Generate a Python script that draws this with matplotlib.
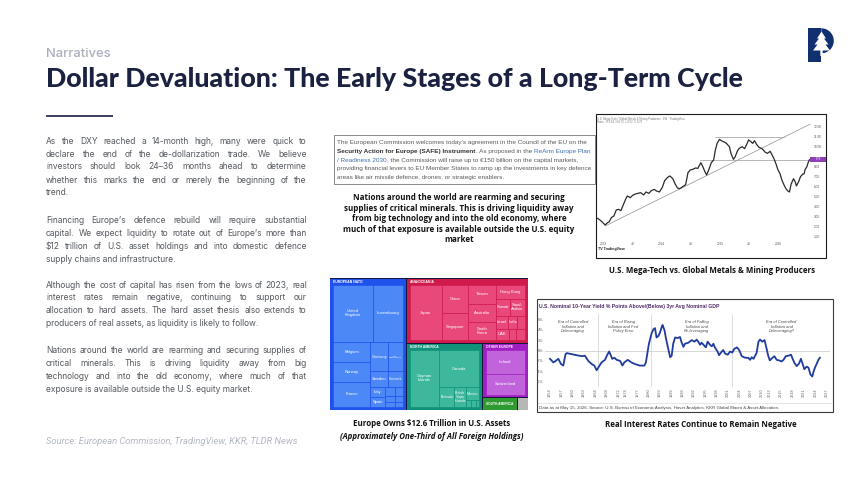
import matplotlib
matplotlib.use("Agg")
import matplotlib.pyplot as plt
from matplotlib.patches import Rectangle, Wedge, Polygon
import matplotlib.transforms as mtransforms

plt.rcParams['text.parse_math'] = False

# ======================= DATA =======================
# Real-rate chart: U.S. nominal 10y yield minus 3yr avg nominal GDP (% points)
rr_year = [1954.0, 1954.9, 1955.5, 1956.2, 1956.9, 1957.5, 1958.1, 1958.4, 1959.7, 1961.0,
           1962.4, 1963.2, 1964.1, 1965.0, 1965.7, 1966.3, 1966.9, 1967.6, 1968.5, 1969.0,
           1969.6, 1970.1, 1970.4, 1971.0, 1971.6, 1972.5, 1973.1, 1973.6, 1974.5, 1975.5,
           1976.4, 1977.7, 1978.9, 1979.3, 1979.8, 1980.1, 1980.8, 1981.3, 1981.7, 1982.1,
           1982.6, 1983.0, 1983.5, 1983.7, 1984.2, 1984.6, 1985.2, 1985.7, 1986.1, 1986.5,
           1987.0, 1987.7, 1988.3, 1988.7, 1989.2, 1989.6, 1990.5, 1991.4, 1992.1, 1992.7,
           1993.1, 1993.6, 1994.0, 1994.5, 1995.1, 1995.6, 1996.2, 1996.7, 1997.1, 1997.5,
           1998.2, 1998.6, 1999.1, 1999.7, 2000.2, 2000.9, 2001.5, 2002.1, 2002.6, 2003.3,
           2003.9, 2004.6, 2005.5, 2006.3, 2006.8, 2007.2, 2007.7, 2008.1, 2008.5, 2009.0,
           2009.4, 2010.0, 2010.6, 2011.0, 2011.6, 2012.0, 2012.7, 2013.2, 2013.8, 2014.4,
           2015.1, 2015.6, 2016.2, 2016.9, 2017.6, 2017.9, 2018.5, 2019.1, 2019.7, 2020.2,
           2020.7, 2021.1, 2021.7, 2022.2, 2022.7, 2023.2, 2023.6, 2023.9, 2024.4, 2024.8,
           2025.2]
rr_value = [-1.6, -2.3, -2.0, -1.6, -2.6, -2.9, -0.7, -0.5, -0.7, -0.9,
            -1.1, -1.0, -2.0, -2.6, -2.9, -3.8, -3.1, -2.3, -1.8, -1.0,
            -0.2, -1.0, -1.6, -1.4, -1.8, -2.0, -2.9, -2.3, -1.8, -2.3,
            -2.6, -2.9, -2.9, -2.3, 0.0, 1.3, 3.3, 4.1, 4.3, 2.5,
            2.8, 3.4, 4.6, 4.9, 3.9, 2.3, 0.3, -1.3, -1.0, 1.3,
            2.5, 2.4, 2.6, 1.6, 0.7, 1.3, 1.5, 2.0, 1.7, 2.1,
            1.7, 1.1, 1.5, 1.1, 0.6, 1.7, 1.1, 0.8, 1.3, 0.6,
            -0.2, -0.9, -0.4, 0.1, -0.6, -0.8, -0.2, -0.4, 0.3, 0.6,
            0.1, -1.1, -1.4, -1.4, -1.8, -1.3, -1.6, -1.0, -0.5, 1.7,
            2.1, 1.7, 2.0, 0.8, -1.1, -1.9, -1.4, -1.1, -1.8, -1.9,
            -2.1, -1.8, -1.1, -1.0, -0.8, -1.4, -2.4, -3.0, -2.5, -1.6,
            -2.7, -3.6, -3.1, -3.3, -4.6, -5.0, -3.9, -3.3, -2.5, -1.8,
            -1.4]
rr_ytick_values = [6, 4, 2, 0, -2, -4, -6]
rr_ytick_labels = ['6%', '4%', '2%', '0%', '-2%', '-4%', '-6%']
rr_xtick_labels = ['1954', '1957', '1960', '1963', '1966', '1969', '1972', '1974', '1977',
                   '1980', '1983', '1986', '1989', '1992', '1995', '1998', '2001', '2004',
                   '2007', '2010', '2012', '2015', '2018', '2021', '2024', '2027']
era_bounds = [1966.7, 1980.6, 2001.9]
era_centers = [1960.1, 1973.3, 1992.7, 2015.1]
era_labels = ['Era of Controlled\nInflation and\nDeleveraging',
              'Era of Rising\nInflation and Fed\nPolicy Error',
              'Era of Falling\nInflation and\nRe-leveraging',
              'Era of Controlled\nInflation and\nDeleveraging?']

# TradingView ratio chart: U.S. Mega-Tech vs Global Metals & Mining (weekly)
tv_time = [2022.90, 2022.94, 2022.99, 2023.03, 2023.07, 2023.10, 2023.14, 2023.18, 2023.22, 2023.26,
           2023.30, 2023.34, 2023.38, 2023.41, 2023.46, 2023.50, 2023.55, 2023.59, 2023.64, 2023.69,
           2023.73, 2023.78, 2023.82, 2023.87, 2023.91, 2023.96, 2024.01, 2024.05, 2024.10, 2024.14,
           2024.19, 2024.23, 2024.27, 2024.31, 2024.36, 2024.41, 2024.45, 2024.49, 2024.53, 2024.58,
           2024.62, 2024.67, 2024.70, 2024.74, 2024.77, 2024.81, 2024.85, 2024.89, 2024.92, 2024.95,
           2024.99, 2025.02, 2025.07, 2025.11, 2025.16, 2025.19, 2025.23, 2025.26, 2025.30, 2025.33,
           2025.38, 2025.42, 2025.46, 2025.49, 2025.53, 2025.56, 2025.59, 2025.63, 2025.67, 2025.72,
           2025.77, 2025.81, 2025.86, 2025.89, 2025.93, 2025.96, 2025.99, 2026.03, 2026.06, 2026.10,
           2026.13, 2026.17, 2026.19, 2026.22, 2026.26, 2026.29, 2026.31, 2026.35, 2026.38, 2026.42,
           2026.44, 2026.46, 2026.49, 2026.51, 2026.53, 2026.55]
tv_ratio = [2.83, 2.67, 2.40, 2.17, 2.40, 2.50, 2.93, 3.07, 3.67, 3.73,
            3.60, 4.17, 4.73, 5.07, 4.90, 5.13, 5.27, 5.33, 5.40, 5.17,
            5.47, 5.33, 5.60, 5.73, 5.57, 5.47, 5.93, 6.60, 6.93, 7.07,
            6.80, 6.27, 5.87, 5.80, 6.00, 6.20, 7.40, 7.67, 7.73, 7.87,
            7.83, 8.40, 8.07, 7.50, 7.17, 7.73, 8.40, 8.67, 9.67, 10.33,
            10.73, 10.60, 10.47, 10.33, 10.00, 9.27, 8.73, 9.00, 9.60, 9.83,
            10.00, 9.80, 10.27, 10.67, 10.50, 10.33, 10.60, 10.20, 9.93, 9.80,
            9.47, 9.33, 9.53, 9.20, 8.73, 8.27, 7.73, 7.27, 6.67, 6.13,
            5.80, 5.53, 5.47, 6.27, 6.80, 6.47, 6.07, 6.53, 7.00, 7.27,
            7.27, 7.73, 8.00, 8.40, 8.67, 8.73]
tv_trend_time = [2023.03, 2026.69]
tv_trend_ratio = [2.07, 12.67]
tv_top_level = 11.0
tv_top_span = [2024.91, 2026.09]
tv_mid_level = 8.67
tv_mid_start = 2024.66
tv_ytick_values = [1, 2, 3, 4, 5, 6, 7, 8, 10, 11, 12]
tv_ytick_labels = ['1.00', '2.00', '3.00', '4.00', '5.00', '6.00', '7.00', '8.00',
                   '10.00', '11.00', '12.00']
tv_xtick_time = [2023.0, 2023.5, 2024.0, 2024.5, 2025.0, 2025.5, 2026.0]
tv_xtick_labels = ['2023', 'Jul', '2024', 'Jul', '2025', 'Jul', '2026']

# Treemap: foreign holdings of U.S. assets ($bn)
nato_names = ['United Kingdom', 'Luxembourg', 'Belgium', 'Norway', 'France', 'Germany',
              'The Netherlands', 'Sweden', 'Denmark', 'Italy', 'Spain', 'Finland', 'Poland',
              'Portugal', 'Greece', 'Turkey', 'Czechia']
nato_values = [2714, 2006, 875, 875, 1108, 611, 525, 333, 286, 167, 179, 90, 80, 70, 60, 55, 48]
asia_names = ['Japan', 'China', 'Singapore', 'Taiwan', 'Australia', 'South Korea', 'Hong Kong',
              'Kuwait', 'Saudi Arabia', 'Israel', 'India', 'Thailand', 'UAE', 'Malaysia', 'Qatar']
asia_values = [2221, 911, 866, 657, 633, 621, 506, 302, 316, 188, 152, 117, 185, 102, 129]
na_names = ['Cayman Islands', 'Canada', 'Bermuda', 'British Virgin Islands', 'Mexico',
            'Bahamas', 'Panama', 'Barbados']
na_values = [2162, 1915, 375, 291, 222, 42, 38, 31]
oe_names = ['Ireland', 'Switzerland']
oe_values = [1322, 1146]
sa_value = 430
other_value = 125

# ======================= FIGURE =======================
W, H = 854, 480
PT = 100 / 72.0
fig = plt.figure(figsize=(W / 100, H / 100), dpi=100, facecolor='white')
bg = fig.add_axes([0, 0, 1, 1])
bg.set_xlim(0, W)
bg.set_ylim(H, 0)
bg.axis('off')
R = fig.canvas.get_renderer()

BODY = ['Inter', 'DejaVu Sans']
HEAVY = ['Lato', 'Inter', 'DejaVu Sans']
CAP = ['Open Sans', 'DejaVu Sans']
ARIAL = ['Liberation Sans', 'DejaVu Sans']


def measure(s, fs, **kw):
    t = bg.text(0, 0, s, fontsize=fs, **kw)
    w = t.get_window_extent(renderer=R).width
    t.remove()
    return w


def fit(s, width, **kw):
    return 20 * width / measure(s, 20, **kw)


def px_axes(x0, y0, x1, y1):
    return fig.add_axes([x0 / W, 1 - y1 / H, (x1 - x0) / W, (y1 - y0) / H])


def justified(lines, centers, x0, x1, fs, **kw):
    for i, (line, c) in enumerate(zip(lines, centers)):
        base = c + 0.33 * fs * PT
        if i == len(lines) - 1:
            bg.text(x0, base, line, fontsize=fs, va='baseline', **kw)
            continue
        words = line.split(' ')
        ws = [measure(w, fs, **kw) for w in words]
        gap = (x1 - x0 - sum(ws)) / (len(words) - 1)
        x = x0
        for w, wd in zip(words, ws):
            bg.text(x, base, w, fontsize=fs, va='baseline', **kw)
            x += wd + gap


def segments(x, base, segs, fs):
    space = measure('a a', fs, family=ARIAL) - measure('aa', fs, family=ARIAL)
    for s, kw in segs:
        core = s.strip()
        if s.startswith(' '):
            x += space
        bg.text(x, base, core, fontsize=fs, va='baseline', family=ARIAL, **kw)
        x += measure(core, fs, family=ARIAL, **kw)
        if s.endswith(' '):
            x += space


# ---------- header ----------
fs_n = fit('Narratives', 64.7, family=BODY, weight='medium')
bg.text(46, 57.3, 'Narratives', fontsize=fs_n, family=BODY, weight='medium',
        color='#a9afbd', va='baseline')
title = 'Dollar Devaluation: The Early Stages of a Long-Term Cycle'
fs_t = fit(title, 699, family=HEAVY, weight='black')
bg.text(46, 87.3, title, fontsize=fs_t, family=HEAVY, weight='black', color='#1b2140',
        va='baseline')
bg.plot([46, 112.7], [116, 116], color='#1b2140', lw=1.2, solid_capstyle='butt')

# ---------- logo ----------
navy = '#10306f'
bg.add_patch(Rectangle((808.3, 28.3), 13, 33.4, facecolor=navy, edgecolor='none'))
bg.add_patch(Wedge((821.3, 40.8), 12.5, -90, 90, facecolor=navy, edgecolor='none'))
tree = [(821.5, 31.5), (826, 38.5), (824, 38.5), (828.5, 44.5), (825.5, 44.5), (830, 50.5),
        (822.7, 50.5), (822.7, 56), (820.3, 56), (820.3, 50.5), (813, 50.5), (817.5, 44.5),
        (814.5, 44.5), (819, 38.5), (817, 38.5)]
bg.add_patch(Polygon(tree, closed=True, facecolor='white', edgecolor='none'))

# ---------- body text ----------
para1 = ['As the DXY reached a 14-month high, many were quick to',
         'declare the end of the de-dollarization trade. We believe',
         'investors should look 24–36 months ahead to determine',
         'whether this marks the end or merely the beginning of the',
         'trend.']
para2 = ['Financing Europe’s defence rebuild will require substantial',
         'capital. We expect liquidity to rotate out of Europe’s more than',
         '$12 trillion of U.S. asset holdings and into domestic defence',
         'supply chains and infrastructure.']
para3 = ['Although the cost of capital has risen from the lows of 2023, real',
         'interest rates remain negative, continuing to support our',
         'allocation to hard assets. The hard asset thesis also extends to',
         'producers of real assets, as liquidity is likely to follow.']
para4 = ['Nations around the world are rearming and securing supplies of',
         'critical minerals. This is driving liquidity away from big',
         'technology and into the old economy, where much of that',
         'exposure is available outside the U.S. equity market.']
body_kw = dict(family=BODY, color='#55595f')
fs_b = fit('supply chains and infrastructure.', 130.7, family=BODY)
justified(para1, [141, 154, 166.7, 180, 192.7], 46, 306.7, fs_b, **body_kw)
justified(para2, [220, 233.3, 246, 259], 46, 306.7, fs_b, **body_kw)
justified(para3, [285, 297.7, 310.7, 323.7], 46, 306.7, fs_b, **body_kw)
justified(para4, [350, 363.3, 376.7, 389.3], 46, 306.7, fs_b, **body_kw)
source = 'Source: European Commission, TradingView, KKR, TLDR News'
fs_src = fit(source, 252.3, family=['Roboto', 'DejaVu Sans'], style='italic')
bg.text(46, 441 + 0.33 * fs_src * PT, source, fontsize=fs_src, family=['Roboto', 'DejaVu Sans'],
        style='italic', color='#b3b8c2', va='baseline')

# ---------- quote box ----------
bg.add_patch(Rectangle((334, 135), 261, 49, facecolor='white', edgecolor='#8a8a8a', lw=0.7))
fs_q = fit('providing financial levers to EU Member States to ramp up the investments in key defence',
           256, family=ARIAL)
qn = dict(color='#5a5a5a')
qb = dict(color='#333333', weight='bold')
ql = dict(color='#3f6fae')
qlines = [
    [('The European Commission welcomes today’s agreement in the Council of the EU on the', qn)],
    [('Security Action for Europe (SAFE) Instrument', qb), ('. As proposed in the ', qn),
     ('ReArm Europe Plan', ql)],
    [('/ Readiness 2030', ql), (', the Commission will raise up to €150 billion on the capital markets,', qn)],
    [('providing financial levers to EU Member States to ramp up the investments in key defence', qn)],
    [('areas like air missile defence, drones, or strategic enablers.', qn)],
]
for segs, c in zip(qlines, [141.7, 150.7, 159.3, 168, 176.7]):
    segments(337.3, c + 0.36 * fs_q * PT, segs, fs_q)

# ---------- bold caption block ----------
cap_lines = ['Nations around the world are rearming and securing',
             'supplies of critical minerals. This is driving liquidity away',
             'from big technology and into the old economy, where',
             'much of that exposure is available outside the U.S. equity',
             'market']
fs_c = fit(cap_lines[1], 227.7, family=CAP, weight='bold')
for s, c in zip(cap_lines, [197.5, 208, 218.5, 229, 239]):
    bg.text(459, c + 0.36 * fs_c * PT, s, fontsize=fs_c, family=CAP, weight='bold',
            color='#111111', ha='center', va='baseline')

# ---------- chart captions ----------
cap1 = 'Europe Owns $12.6 Trillion in U.S. Assets'
fs_cap = fit(cap1, 157.7, family=CAP, weight='bold')
bg.text(431.9, 423.5 + 0.36 * fs_cap * PT, cap1, fontsize=fs_cap, family=CAP, weight='bold',
        color='#111111', ha='center', va='baseline')
bg.text(431.9, 436 + 0.36 * fs_cap * PT, '(Approximately One-Third of All Foreign Holdings)',
        fontsize=fs_cap, family=CAP, weight='bold', style='italic', color='#111111',
        ha='center', va='baseline')
bg.text(701, 424 + 0.36 * fs_cap * PT, 'Real Interest Rates Continue to Remain Negative',
        fontsize=fs_cap, family=CAP, weight='bold', color='#111111', ha='center', va='baseline')
bg.text(712, 270 + 0.36 * fs_cap * PT, 'U.S. Mega-Tech vs. Global Metals & Mining Producers',
        fontsize=fs_cap, family=CAP, weight='bold', color='#111111', ha='center', va='baseline')

# ======================= TREEMAP =======================
leaf_value = {}
for nms, vals in [(nato_names, nato_values), (asia_names, asia_values),
                  (na_names, na_values), (oe_names, oe_values)]:
    leaf_value.update(zip(nms, vals))

group_value = {'NATO': sum(nato_values), 'ASIA': sum(asia_values), 'NA': sum(na_values),
               'OE': sum(oe_values), 'SA': sa_value, 'OTHER': other_value}

top_tree = ('h', ['NATO', ('v', ['ASIA', ('h', ['NA', ('v', ['OE', ('h', ['SA', 'OTHER'])])])])])
group_trees = {
    'NATO': ('v', [('h', ['United Kingdom', 'Luxembourg']),
                   ('h', [('v', ['Belgium', 'Norway', 'France']),
                          ('v', [('h', ['Germany', 'The Netherlands']),
                                 ('h', ['Sweden', 'Denmark']),
                                 ('h', [('v', ['Italy', 'Spain']),
                                        ('v', [('h', ['Finland', 'Poland']),
                                               ('h', ['Portugal', 'Greece']),
                                               ('h', ['Turkey', 'Czechia'])])])])])]),
    'ASIA': ('h', ['Japan', ('v', ['China', 'Singapore']),
                   ('v', ['Taiwan', 'Australia', 'South Korea']),
                   ('v', ['Hong Kong', ('h', ['Kuwait', 'Saudi Arabia']),
                          ('h', ['Israel', 'India', 'Thailand']),
                          ('h', ['UAE', 'Malaysia', 'Qatar'])])]),
    'NA': ('h', ['Cayman Islands', ('v', ['Canada', ('h', ['Bermuda', 'British Virgin Islands',
                                                         ('v', ['Mexico', ('h', ['Bahamas', 'Panama', 'Barbados'])])])])]),
    'OE': ('v', ['Ireland', 'Switzerland']),
}
group_style = {'NATO': ('EUROPEAN NATO', '#1f52ec', '#4c88f6'),
               'ASIA': ('ASIA/OCEANIA', '#cf1a4b', '#e8497a'),
               'NA': ('NORTH AMERICA', '#12917a', '#3db89d'),
               'OE': ('OTHER EUROPE', '#a11fc2', '#c163da')}
display = {'United Kingdom': 'United\nKingdom', 'The Netherlands': 'The\nNetherlands',
           'South Korea': 'South\nKorea', 'Saudi Arabia': 'Saudi\nArabia',
           'Cayman Islands': 'Cayman\nIslands', 'British Virgin Islands': 'British\nVirgin\nIslands'}


def node_value(n, table):
    if isinstance(n, str):
        return table[n]
    return sum(node_value(k, table) for k in n[1])


def layout(n, x0, y0, x1, y1, table, out):
    if isinstance(n, str):
        out[n] = (x0, y0, x1, y1)
        return
    d, kids = n
    vals = [node_value(k, table) for k in kids]
    tot = float(sum(vals))
    pos = x0 if d == 'h' else y0
    for k, v in zip(kids, vals):
        span = ((x1 - x0) if d == 'h' else (y1 - y0)) * v / tot
        if d == 'h':
            layout(k, pos, y0, pos + span, y1, table, out)
        else:
            layout(k, x0, pos, x1, pos + span, table, out)
        pos += span


TX0, TY0, TX1, TY1 = 329.7, 278.3, 528, 410
TW, TH = TX1 - TX0, TY1 - TY0
tm = px_axes(TX0, TY0, TX1, TY1)
tm.set_xlim(0, TW)
tm.set_ylim(TH, 0)
tm.axis('off')
tm.add_patch(Rectangle((0, 0), TW, TH, facecolor='#15173a', edgecolor='none'))
grects = {}
layout(top_tree, 0, 0, TW, TH, group_value, grects)
PAD, HEAD, INS = 3.2, 6.6, 0.4
for g, (x0, y0, x1, y1) in grects.items():
    if g in group_style:
        name, dark, light = group_style[g]
        tm.add_patch(Rectangle((x0 + INS, y0 + INS), x1 - x0 - 2 * INS, y1 - y0 - 2 * INS,
                               facecolor=dark, edgecolor='none'))
        tm.text(x0 + PAD + 0.5, y0 + 3.5, name, fontsize=2.4, family=ARIAL, weight='bold',
                color='white', ha='left', va='center')
        lrects = {}
        layout(group_trees[g], x0 + PAD, y0 + HEAD, x1 - PAD, y1 - PAD, leaf_value, lrects)
        for leaf, (a0, b0, a1, b1) in lrects.items():
            tm.add_patch(Rectangle((a0, b0), a1 - a0, b1 - b0, facecolor=light,
                                   edgecolor=dark, lw=0.45))
            if (a1 - a0) >= 9.5 and (b1 - b0) >= 8:
                lab = display.get(leaf, leaf)
                longest = max(lab.split('\n'), key=len)
                fsl = min(3.0, 3.0 * 0.86 * (a1 - a0) / measure(longest, 3.0, family=ARIAL))
                tm.text((a0 + a1) / 2, (b0 + b1) / 2, lab, fontsize=fsl,
                        family=ARIAL, color='white', ha='center', va='center',
                        linespacing=1.0)
    elif g == 'SA':
        tm.add_patch(Rectangle((x0 + INS, y0 + INS), x1 - x0 - 2 * INS, y1 - y0 - 2 * INS,
                               facecolor='#2f9a2f', edgecolor='none'))
        tm.text((x0 + x1) / 2, (y0 + y1) / 2, 'SOUTH AMERICA', fontsize=2.3, family=ARIAL,
                weight='bold', color='white', ha='center', va='center')
    else:
        tm.add_patch(Rectangle((x0 + INS, y0 + INS), x1 - x0 - 2 * INS, y1 - y0 - 2 * INS,
                               facecolor='#b7b7b7', edgecolor='none'))

# ======================= REAL RATE LINE CHART =======================
bg.add_patch(Rectangle((537, 299), 295.7, 112.7, facecolor='white', edgecolor='#3a3a3a', lw=0.8))
rr_title = 'U.S. Nominal 10-Year Yield % Points Above/(Below) 3yr Avg Nominal GDP'
fs_rt = fit(rr_title, 177.7, family=ARIAL, weight='bold')
bg.text(539, 306 + 0.35 * fs_rt * PT, rr_title, fontsize=fs_rt, family=ARIAL, weight='bold',
        color='#4e2a66', va='baseline')
rr_foot = ('Data as at May 15, 2026. Source: U.S. Bureau of Economic Analysis, Haver Analytics, '
           'KKR Global Macro & Asset Allocation.')
fs_rf = fit(rr_foot, 242.7, family=ARIAL)
bg.text(539, 407.3 + 0.35 * fs_rf * PT, rr_foot, fontsize=fs_rf, family=ARIAL, color='#444444',
        va='baseline')
bg.plot([538, 831.5], [402.5, 402.5], color='#d0d0d0', lw=0.4)

ax = px_axes(545, 314.1, 830, 386.9)
ax.set_xlim(1952.68, 2027.87)
ax.set_ylim(-7, 7)
ax.patch.set_alpha(0)
for s in ax.spines.values():
    s.set_visible(False)
ax.axhline(0, color='#c8c8c8', lw=0.5, zorder=1)
for b in era_bounds:
    ax.axvline(b, color='#cfcfcf', lw=0.5, zorder=1)
ax.plot(rr_year, rr_value, color='#1f3c9e', lw=1.3, zorder=3, solid_joinstyle='round')
for xc, lab in zip(era_centers, era_labels):
    ax.text(xc, 4.6, lab, fontsize=2.9, style='italic', family=ARIAL, color='#444444',
            ha='center', va='center', linespacing=1.05)
ax.set_yticks(rr_ytick_values)
ax.set_yticklabels(rr_ytick_labels)
ax.set_xticks([int(l) for l in rr_xtick_labels])
ax.set_xticklabels(rr_xtick_labels, rotation=90)
ax.tick_params(length=0, labelsize=2.8, colors='#666666', pad=1.2)
for lab in ax.get_xticklabels() + ax.get_yticklabels():
    lab.set_family(ARIAL)

# ======================= TRADINGVIEW CHART =======================
bg.add_patch(Rectangle((596, 114), 230, 144, facecolor='white', edgecolor='#1a1a1a', lw=0.8))
bg.text(597.5, 118.6, 'U.S. Mega-Tech / Global Metals & Mining Producers · 1W · TradingView',
        fontsize=2.0, family=ARIAL, color='#777777', va='center')
bg.text(597.5, 121.9, 'Ratio · O 8.61  H 8.79  L 8.52  C 8.73',
        fontsize=2.0, family=ARIAL, color='#777777', va='center')
bg.text(598, 248.8, 'TV TradingView', fontsize=2.6, family=ARIAL, weight='bold',
        color='#222222', va='center')

tv = px_axes(597, 124, 812, 240)
tv.set_xlim(2022.89, 2026.577)
tv.set_ylim(0.667, 12.267)
tv.patch.set_alpha(0)
for s in tv.spines.values():
    s.set_visible(False)
tv.plot(tv_trend_time, tv_trend_ratio, color='#8f8f8f', lw=0.5, zorder=2)
tv.plot(tv_top_span, [tv_top_level, tv_top_level], color='#9a9a9a', lw=0.5, zorder=2)
tv.plot([tv_mid_start, 2026.577], [tv_mid_level, tv_mid_level], color='#9a9a9a', lw=0.5,
        zorder=2, clip_on=False)
tv.plot(tv_time, tv_ratio, color='#2a2a2a', lw=0.9, zorder=3)
tv.yaxis.tick_right()
tv.set_yticks(tv_ytick_values)
tv.set_yticklabels(tv_ytick_labels)
tv.set_xticks(tv_xtick_time)
tv.set_xticklabels(tv_xtick_labels)
tv.tick_params(length=0, labelsize=2.3, colors='#555555', pad=1.5)
for lab in tv.get_xticklabels() + tv.get_yticklabels():
    lab.set_family(ARIAL)
blend = mtransforms.blended_transform_factory(tv.transAxes, tv.transData)
tv.add_patch(Rectangle((0.99, tv_ratio[-1] - 0.28), 0.075, 0.56, transform=blend,
                       facecolor='#8e3fb6', edgecolor='none', clip_on=False, zorder=5))
tv.text(1.028, tv_ratio[-1], '%.2f' % tv_ratio[-1], transform=blend, fontsize=2.0,
        family=ARIAL, color='white', ha='center', va='center', clip_on=False, zorder=6)

fig.savefig('out.png', dpi=100, facecolor='white')
